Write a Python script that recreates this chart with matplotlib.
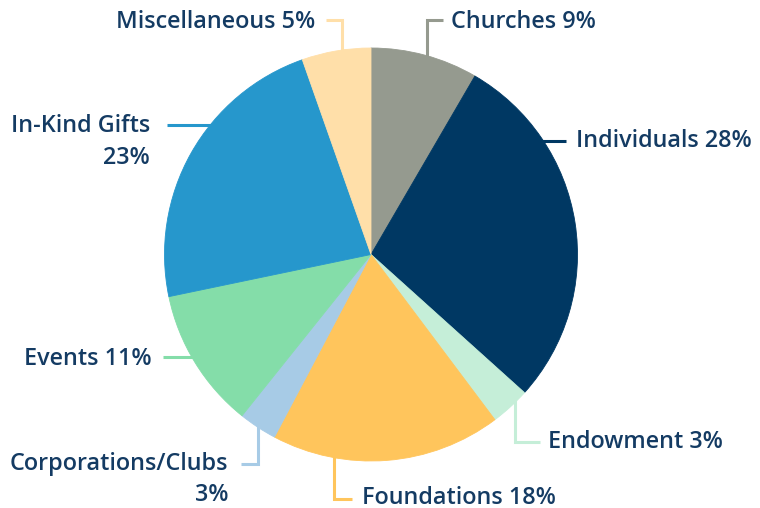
import numpy as np
import matplotlib
matplotlib.use("Agg")
import matplotlib.pyplot as plt

# data, clockwise from 12 o'clock (shares)
labels = ["Churches", "Individuals", "Endowment", "Foundations",
          "Corporations/Clubs", "Events", "In-Kind Gifts", "Miscellaneous"]
shares = [8.4, 28.3, 3.1, 18.0, 3.0, 11.0, 22.9, 5.4]
colors = ["#959a8f", "#003863", "#c5eed8", "#ffc55c",
          "#a7cbe6", "#84dda9", "#2697cc", "#ffdfa9"]
label_text = ["Churches 9%", "Individuals 28%", "Endowment 3%", "Foundations 18%",
              "Corporations/Clubs\n3%", "Events 11%", "In-Kind Gifts\n23%", "Miscellaneous 5%"]

txt_color = "#143b63"
cx, cy, r = 371, 254.5, 206.5

fig = plt.figure(figsize=(7.6, 5.08), dpi=100)
ax = fig.add_axes([0, 0, 1, 1])
# y axis is flipped (pixel-like coords), so angles run the other way
wedges, _ = ax.pie(shares, colors=colors, startangle=-90, counterclock=True,
                   center=(cx, cy), radius=r, frame=True)
for w, c in zip(wedges, colors):
    w.set_edgecolor(c)
    w.set_linewidth(0.6)
ax.set_xlim(0, 760)
ax.set_ylim(508, 0)
ax.set_aspect("equal")
ax.axis("off")

def edge_y(x, top):
    d = np.sqrt(r**2 - (x - cx)**2)
    return cy - d if top else cy + d

def edge_x(y, right):
    d = np.sqrt(r**2 - (y - cy)**2)
    return cx + d if right else cx - d

lw = 2.2
# (kind, anchor, turn, end, text x, baseline y, ha)
legs = {
    "Churches": ("v", 427, 20, 443, 451, 28.5, "left"),
    "Miscellaneous": ("v", 342, 20, 326, 315, 28.5, "right"),
    "Corporations/Clubs": ("v", 257.5, 463.5, 241, 228.5, 470, "right"),
    "Endowment": ("v", 515, 441.5, 540, 548.5, 448.5, "left"),
    "Foundations": ("v", 333.5, 498.5, 352, 362.5, 503.5, "left"),
    "Individuals": ("h", 141, None, 566, 576, 147, "left"),
    "Events": ("h", 357, None, 163, 151.5, 365, "right"),
    "In-Kind Gifts": ("h", 124.5, None, 167, 150, 132.5, "right"),
}
fam = ["Open Sans", "DejaVu Sans"]

for lab, txt, col in zip(labels, label_text, colors):
    kind, a, turn, end, tx, ty, ha = legs[lab]
    if kind == "v":
        top = turn < cy
        y0 = edge_y(a, top) + (3 if top else -3)
        ax.plot([a, a, end], [y0, turn, turn], color=col, lw=lw,
                solid_joinstyle="miter", solid_capstyle="butt")
    else:
        right = end > cx
        x0 = edge_x(a, right) + (2 * (-1 if right else 1))
        ax.plot([x0, end], [a, a], color=col, lw=lw, solid_capstyle="butt")
    for i, line in enumerate(txt.split("\n")):
        ax.text(tx, ty + 31 * i, line, ha=ha, va="baseline", fontsize=16.8,
                fontweight="semibold", color=txt_color, family=fam)

fig.savefig("out.png", dpi=100, facecolor="white")
